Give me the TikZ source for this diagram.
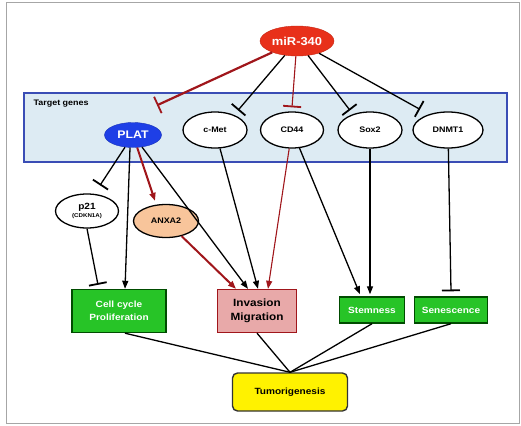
\documentclass[tikz,border=0pt]{standalone}
\usepackage{fontspec}
\setmainfont{Liberation Sans}[FakeStretch=1.12]
\usepackage{xcolor}
\usetikzlibrary{positioning}
\usetikzlibrary{calc}
\usetikzlibrary{shapes.geometric}
\usetikzlibrary{arrows.meta}
\definecolor{mirred}{HTML}{E8301A}
\definecolor{platblue}{HTML}{1E3FE6}
\definecolor{tgblue}{HTML}{DDEBF3}
\definecolor{tgedge}{HTML}{3A4DB5}
\definecolor{boxgreen}{HTML}{27C427}
\definecolor{invpink}{HTML}{E8A9A9}
\definecolor{anxapeach}{HTML}{F8C59B}
\definecolor{lred}{HTML}{A0161B}

\begin{document}
\begin{tikzpicture}[x=1pt,y=-1pt,
  gene/.style={ellipse,draw,line width=1.3pt,fill=white,inner sep=0pt,
    minimum height=36pt,font=\bfseries\fontsize{8}{9}\selectfont},
  outbox/.style={rectangle,draw=black!70!green,line width=1.4pt,fill=boxgreen,
    text=white,align=center,inner sep=0pt,font=\bfseries\fontsize{9}{12.5}\selectfont},
  act/.style={-{Triangle[length=8pt,width=6pt]},line width=1.3pt},
  inh/.style={-{Bar[width=18pt,line width=1.8pt]},line width=1.3pt}]

\useasboundingbox (0,0) rectangle (521,425);
\draw[gray!70,line width=1pt] (6,3) rectangle (519,423);

% target genes panel
\draw[tgedge,line width=1.2pt,fill=tgblue] (24,93) rectangle (507,162);
\node[anchor=west,font=\bfseries\fontsize{8}{9}\selectfont] (tg) at (30,104) {Target genes};

\node[ellipse,fill=mirred,draw=mirred!85!black,inner sep=0pt,minimum width=74pt,minimum height=30pt,
  text=white,font=\bfseries\fontsize{11.5}{13}\selectfont] (mir) at (297,41) {miR-340};

\node[ellipse,fill=platblue,draw=platblue!80!black,inner sep=0pt,minimum width=57pt,minimum height=25pt,
  text=white,font=\bfseries\fontsize{11}{12}\selectfont] (plat) at (133,135) {PLAT};
\node[gene,minimum width=64pt] (cmet) at (215,130) {c-Met};
\node[gene,minimum width=63pt] (cd44) at (292,130) {CD44};
\node[gene,minimum width=64pt] (sox2) at (370,130) {Sox2};
\node[gene,minimum width=70pt] (dnmt1) at (448,130) {DNMT1};

\node[gene,minimum width=63pt,minimum height=34pt,align=center] (p21) at (87,211)
  {\fontsize{9}{9}\selectfont p21\\[-1pt]\fontsize{5.5}{6}\selectfont(CDKN1A)};
\node[gene,fill=anxapeach,minimum width=65pt,minimum height=33pt] (anxa2) at (166,221) {ANXA2};

% outcomes
\node[outbox,minimum width=94pt,minimum height=43pt] (cell) at (119,311) {Cell cycle\\Proliferation};
\node[rectangle,draw=lred,line width=1.3pt,fill=invpink,align=center,inner sep=0pt,
  minimum width=79pt,minimum height=43pt,font=\bfseries\fontsize{10.5}{13.5}\selectfont] (inv) at (257,311) {Invasion\\Migration};
\node[outbox,minimum width=65pt,minimum height=26pt] (stem) at (372,310) {Stemness};
\node[outbox,minimum width=73pt,minimum height=26pt] (sen) at (451,310) {Senescence};
\node[rectangle,rounded corners=5pt,draw=black!80,line width=1.4pt,fill=yellow,inner sep=0pt,
  minimum width=115pt,minimum height=38pt,font=\bfseries\fontsize{9}{10}\selectfont] (tumor) at (290,392) {Tumorigenesis};

% miR-340 on its targets
\draw[inh,lred,line width=2.2pt] (mir) -- ([xshift=24pt,yshift=17pt]plat.north);
\draw[inh] (mir) -- ([xshift=23pt,yshift=1pt]cmet.north);
\draw[inh,lred,line width=1.1pt] (mir) -- ([yshift=4pt]cd44.north);
\draw[inh] (mir) -- ([xshift=-20pt,yshift=1pt]sox2.north);
\draw[inh] (mir) -- ([xshift=-28pt,yshift=2pt]dnmt1.north);

% targets on outcomes
\draw[inh] (plat) -- ([xshift=13pt,yshift=8pt]p21.north);
\draw[act] ([xshift=-3pt]plat.south) -- ([xshift=6pt]cell.north);
\draw[inh] (p21.south) -- ([xshift=-21pt,yshift=4pt]cell.north);
\draw[act,lred,line width=2pt] (plat) -- ([xshift=-11pt,yshift=3pt]anxa2.north);
\draw[act] (plat) -- ([xshift=-9pt]inv.north);
\draw[act,lred,line width=2pt] (anxa2) -- ([xshift=-21pt]inv.north);
\draw[act] (cmet) -- ([xshift=1pt]inv.north);
\draw[act,lred,line width=1.1pt] (cd44) -- ([xshift=11pt]inv.north);
\draw[act] (cd44) -- ([xshift=-12pt,yshift=2pt]stem.north);
\draw[act] (sox2) -- ([xshift=-2pt,yshift=2pt]stem.north);
\draw[inh] (dnmt1) -- ([yshift=5pt]sen.north);

% outcomes to tumorigenesis
\draw[line width=1.3pt] ([xshift=6pt]cell.south) -- (tumor.north);
\draw[line width=1.3pt] (inv.south) -- (tumor.north);
\draw[line width=1.3pt] (stem.south) -- (tumor.north);
\draw[line width=1.3pt] (sen.south) -- (tumor.north);

\end{tikzpicture}
\end{document}
